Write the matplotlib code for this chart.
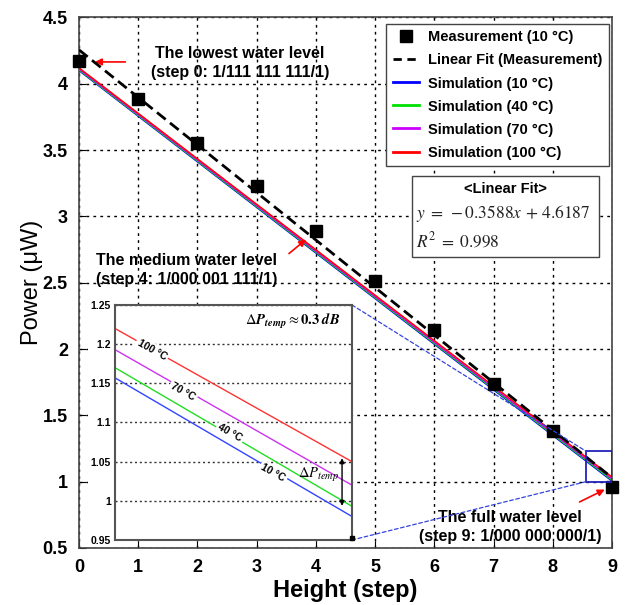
import numpy as np
import matplotlib
matplotlib.use("Agg")
import matplotlib.pyplot as plt
from matplotlib.patches import Rectangle, ConnectionPatch
from matplotlib.lines import Line2D

plt.rcParams.update({
    "font.family": ["Liberation Sans", "DejaVu Sans"],
    "mathtext.fontset": "stix",
})

# Data
steps = [0, 1, 2, 3, 4, 5, 6, 7, 8, 9]
measured = [4.17, 3.887, 3.55, 3.23, 2.89, 2.51, 2.14, 1.74, 1.38, 0.96]
fit_x = [0, 9]
fit_y = [4.256, 1.03]
sim_x = [0, 9]
sim_10 = [4.100, 1.005]
sim_40 = [4.105, 1.012]
sim_70 = [4.112, 1.022]
sim_100 = [4.120, 1.035]

inset_x = [0, 1]
inset_10 = [1.157, 0.980]
inset_40 = [1.170, 0.993]
inset_70 = [1.193, 1.020]
inset_100 = [1.220, 1.050]
inset_yticks = [0.95, 1.0, 1.05, 1.1, 1.15, 1.2, 1.25]
inset_yticklabels = ["0.95", "1", "1.05", "1.1", "1.15", "1.2", "1.25"]

yticks = [0.5, 1, 1.5, 2, 2.5, 3, 3.5, 4, 4.5]
yticklabels = ["0.5", "1", "1.5", "2", "2.5", "3", "3.5", "4", "4.5"]

# Figure
fig = plt.figure(figsize=(6.29, 6.05), dpi=100)
ax = fig.add_axes([79 / 629, 1 - 548 / 605, 533 / 629, 530.5 / 605])

ax.plot(sim_x, sim_10, color="#0000ff", lw=1.1, zorder=3)
ax.plot(sim_x, sim_40, color="#00e000", lw=1.1, zorder=3)
ax.plot(sim_x, sim_70, color="#cc00ff", lw=1.1, zorder=3)
ax.plot(sim_x, sim_100, color="#ff0000", lw=1.1, zorder=3)
ax.plot(fit_x, fit_y, color="black", lw=2.0, ls=(0, (4, 2)), zorder=4)
ax.plot(steps, measured, ls="none", marker="s", ms=9, color="black",
        zorder=5, clip_on=False)

ax.set_xlim(0, 9)
ax.set_ylim(0.5, 4.5)
ax.set_xticks(steps)
ax.set_yticks(yticks)
ax.set_yticklabels(yticklabels)
ax.tick_params(direction="in", length=5, labelsize=13, pad=8)
for lab in ax.get_xticklabels() + ax.get_yticklabels():
    lab.set_fontweight("bold")
ax.grid(True, color="black", ls=(0, (2, 3)), lw=1.0)
for sp in ax.spines.values():
    sp.set_color("#444444")
    sp.set_linewidth(1.2)

ax.set_xlabel("Height (step)", fontsize=17, fontweight="bold", labelpad=2)
ax.set_ylabel("Power (μW)", fontsize=17, labelpad=0)

# Legend (thicker sample lines than the plotted ones)
leg_handles = [
    Line2D([], [], ls="none", marker="s", ms=8, color="black"),
    Line2D([], [], color="black", lw=2.0, ls=(0, (3, 2))),
    Line2D([], [], color="#0000ff", lw=2.0),
    Line2D([], [], color="#00e000", lw=2.0),
    Line2D([], [], color="#cc00ff", lw=2.0),
    Line2D([], [], color="#ff0000", lw=2.0),
]
leg_labels = ["Measurement (10 °C)", "Linear Fit (Measurement)", "Simulation (10 °C)",
              "Simulation (40 °C)", "Simulation (70 °C)", "Simulation (100 °C)"]
leg = ax.legend(leg_handles, leg_labels,
                loc="upper right", bbox_to_anchor=(0.994, 0.988), borderaxespad=0,
                fancybox=False, edgecolor="#444444", framealpha=1,
                prop={"weight": "bold", "size": 10.5}, handlelength=1.8,
                labelspacing=0.62, handletextpad=0.6, borderpad=0.45)
leg.get_frame().set_linewidth(1.0)
leg.set_zorder(10)

# Linear fit box
ax.add_patch(Rectangle((0.625, 0.5485), 0.351, 0.1525, transform=ax.transAxes,
                       facecolor="white", edgecolor="#444444", lw=1.0, zorder=10))
ax.text(0.80, 0.676, "<Linear Fit>", transform=ax.transAxes, ha="center", va="center",
        fontsize=10.5, fontweight="bold", zorder=11)
ax.text(0.632, 0.631, r"$y\;=\;-0.3588x\,+\,4.6187$", transform=ax.transAxes,
        ha="left", va="center", fontsize=12.5, color="#222222", zorder=11)
ax.text(0.632, 0.58, r"$R^2\;=\;0.998$", transform=ax.transAxes,
        ha="left", va="center", fontsize=12.5, color="#222222", zorder=11)

# Annotations
ax.text(2.72, 4.154, "The lowest water level\n(step 0: 1/111 111 111/1)", ha="center",
        va="center", fontsize=11.5, fontweight="bold", linespacing=1.35, zorder=6)
ax.annotate("", xy=(0.22, 4.165), xytext=(0.83, 4.165),
            arrowprops=dict(arrowstyle="-|>", color="red", lw=1.2, mutation_scale=10))
ax.text(1.82, 2.594, "The medium water level\n(step 4: 1/000 001 111/1)", ha="center",
        va="center", fontsize=11.5, fontweight="bold", linespacing=1.35, zorder=6)
ax.annotate("", xy=(3.87, 2.84), xytext=(3.51, 2.707),
            arrowprops=dict(arrowstyle="-|>", color="red", lw=1.2, mutation_scale=10))
ax.text(7.28, 0.66, "The full water level\n(step 9: 1/000 000 000/1)", ha="center",
        va="center", fontsize=11.5, fontweight="bold", linespacing=1.35, zorder=6)
ax.annotate("", xy=(8.92, 0.95), xytext=(8.41, 0.838),
            arrowprops=dict(arrowstyle="-|>", color="red", lw=1.2, mutation_scale=10))

# Zoom rectangle
ax.add_patch(Rectangle((8.56, 1.0), 0.44, 0.23, facecolor="none",
                       edgecolor="#2222bb", lw=1.3, zorder=7))

# White backing behind the inset tick labels (inset pasted as a picture)
fig.add_artist(Rectangle((88 / 629, 1 - 542 / 605), 30 / 629, 242 / 605,
                         transform=fig.transFigure, facecolor="white",
                         edgecolor="none", zorder=1))

# Inset
axin = fig.add_axes([115 / 629, 1 - 540 / 605, 237 / 629, 235 / 605])
axin.set_zorder(8)
axin.plot(inset_x, inset_100, color="#ff3333", lw=1.0)
axin.plot(inset_x, inset_70, color="#cc33ee", lw=1.0)
axin.plot(inset_x, inset_40, color="#22dd22", lw=1.0)
axin.plot(inset_x, inset_10, color="#3344ff", lw=1.0)
axin.set_xlim(0, 1)
axin.set_ylim(0.95, 1.25)
axin.set_xticks([])
axin.set_yticks(inset_yticks)
axin.set_yticklabels(inset_yticklabels)
axin.tick_params(axis="y", length=0, labelsize=7.5, pad=3)
for lab in axin.get_yticklabels():
    lab.set_fontweight("bold")
axin.grid(True, axis="y", color="#333333", ls=(0, (1.5, 2)), lw=1.0)
for sp in axin.spines.values():
    sp.set_color("#555555")
    sp.set_linewidth(1.5)

box = dict(facecolor="white", edgecolor="none", pad=1.5)
for (fx, fy, txt) in [(0.156, 0.809, "100 °C"), (0.287, 0.630, "70 °C"),
                      (0.485, 0.455, "40 °C"), (0.667, 0.285, "10 °C")]:
    axin.text(fx, fy, txt, transform=axin.transAxes, ha="center", va="center",
              rotation=-29, rotation_mode="anchor", fontsize=7.5, fontweight="bold",
              bbox=box, zorder=5)

axin.text(0.95, 0.928, r"$\Delta\mathbfit{P}_{\mathbfit{temp}}\approx\mathbf{0.3}\ \mathbfit{dB}$",
          transform=axin.transAxes, ha="right", va="center", fontsize=10.5)
axin.text(0.86, 0.277, r"$\Delta P_{temp}$", transform=axin.transAxes,
          ha="center", va="center", fontsize=10.5)
axin.annotate("", xy=(0.958, 1.058), xytext=(0.958, 0.99),
              arrowprops=dict(arrowstyle="<|-|>", color="black", lw=1.0, mutation_scale=7))
axin.plot([1.0], [0.953], marker="s", ms=3, color="black", clip_on=False, zorder=6)

# Connector lines
for xa, xb in [((1, 1), (8.56, 1.23)), ((1, 0), (8.56, 1.0))]:
    con = ConnectionPatch(xyA=xa, coordsA=axin.transAxes, xyB=xb, coordsB=ax.transData,
                          color="#3344dd", lw=0.9, ls=(0, (3, 2)))
    fig.add_artist(con)

fig.savefig("out.png", dpi=100)
